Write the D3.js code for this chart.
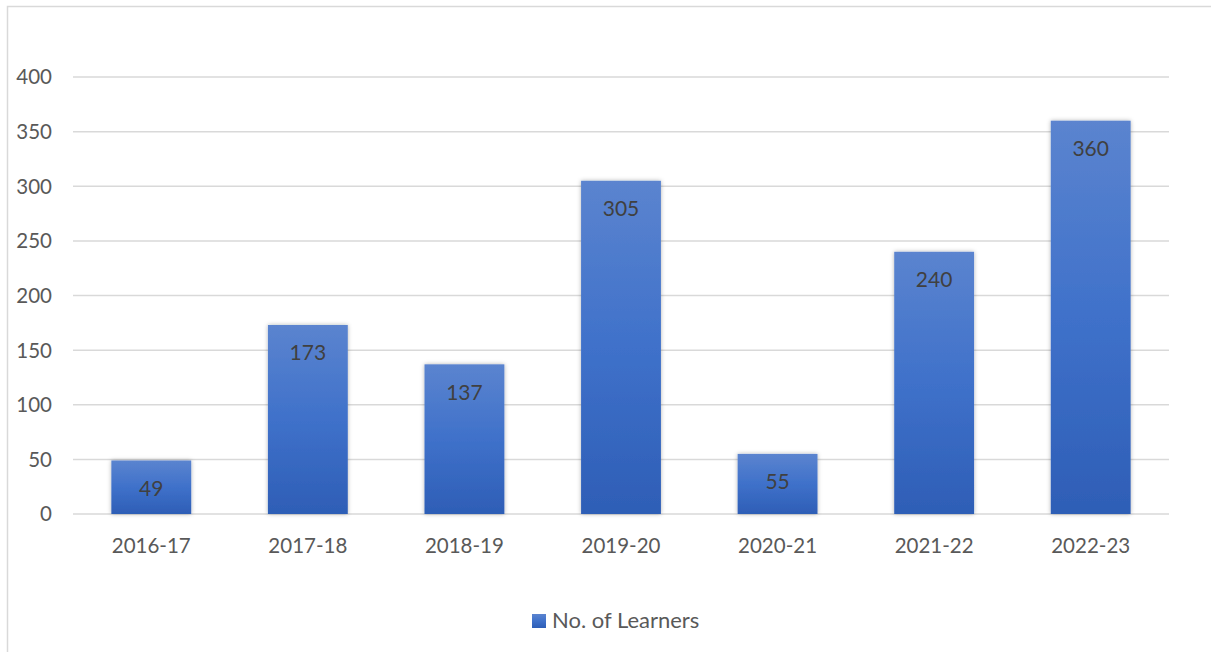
<!DOCTYPE html>
<html>
<head>
<meta charset="utf-8">
<script src="https://cdn.jsdelivr.net/npm/d3@7"></script>
<style>
  body { margin: 0; background: #fff; }
  text { font-family: Lato, "Open Sans", sans-serif; }
</style>
</head>
<body>
<div id="chart"></div>
<script>
// chart data
var years = ["2016-17", "2017-18", "2018-19", "2019-20", "2020-21", "2021-22", "2022-23"];
var learners = [49, 173, 137, 305, 55, 240, 360];
var yTicks = [0, 50, 100, 150, 200, 250, 300, 350, 400];
var seriesName = "No. of Learners";

var width = 1211,
    height = 652;

var svg = d3.select("#chart")
   .append("svg")
   .attr("width", width)
   .attr("height", height);

var defs = svg.append("defs");

// bar gradient, light at top, darker at bottom
var grad = defs.append("linearGradient")
   .attr("id", "barGrad")
   .attr("x1", 0).attr("y1", 0).attr("x2", 0).attr("y2", 1);
grad.append("stop").attr("offset", "0%").attr("stop-color", "#5b84cf");
grad.append("stop").attr("offset", "50%").attr("stop-color", "#3f71ca");
grad.append("stop").attr("offset", "100%").attr("stop-color", "#2e5eb6");

var shadow = defs.append("filter")
   .attr("id", "shadow")
   .attr("x", "-20%").attr("y", "-20%")
   .attr("width", "140%").attr("height", "140%");
shadow.append("feDropShadow")
   .attr("dx", 0).attr("dy", 0)
   .attr("stdDeviation", 2)
   .attr("flood-color", "#000")
   .attr("flood-opacity", 0.3);

// chart frame (only top and left edges are visible)
svg.append("path")
   .attr("d", "M7.5,652 L7.5,6.5 L1211,6.5")
   .attr("fill", "none")
   .attr("stroke", "#d9d9d9")
   .attr("stroke-width", 1.5);

var x = d3.scaleBand()
   .domain(years)
   .range([73, 1169])
   .paddingInner(0.49)
   .paddingOuter(0.245);

var y = d3.scaleLinear()
   .domain([0, 400])
   .range([514, 77]);

// gridlines
svg.append("g")
   .selectAll("line")
   .data(yTicks)
   .enter().append("line")
   .attr("x1", 73)
   .attr("x2", 1169)
   .attr("y1", function(d) { return y(d); })
   .attr("y2", function(d) { return y(d); })
   .attr("stroke", "#d9d9d9")
   .attr("stroke-width", 1.5);

// y tick labels
svg.append("g")
   .selectAll("text")
   .data(yTicks)
   .enter().append("text")
   .attr("x", 52)
   .attr("y", function(d) { return y(d); })
   .attr("dy", "0.36em")
   .attr("text-anchor", "end")
   .attr("font-size", 20.5)
   .attr("fill", "#595959")
   .text(function(d) { return d; });

// bars
svg.append("g")
   .selectAll("rect")
   .data(learners)
   .enter().append("rect")
   .attr("x", function(d, i) { return x(years[i]); })
   .attr("y", function(d) { return y(d); })
   .attr("width", x.bandwidth())
   .attr("height", function(d) { return y(0) - y(d); })
   .attr("fill", "url(#barGrad)")
   .attr("filter", "url(#shadow)");

// value labels inside bars
svg.append("g")
   .selectAll("text")
   .data(learners)
   .enter().append("text")
   .attr("x", function(d, i) { return x(years[i]) + x.bandwidth() / 2; })
   .attr("y", function(d) { return y(d) + 35.5; })
   .attr("text-anchor", "middle")
   .attr("font-size", 21)
   .attr("fill", "#404040")
   .text(function(d) { return d; });

// category labels
svg.append("g")
   .selectAll("text")
   .data(years)
   .enter().append("text")
   .attr("x", function(d) { return x(d) + x.bandwidth() / 2; })
   .attr("y", 553)
   .attr("text-anchor", "middle")
   .attr("font-size", 20.5)
   .attr("fill", "#595959")
   .text(function(d) { return d; });

// legend
var legend = svg.append("g");
legend.append("rect")
   .attr("x", 532)
   .attr("y", 614)
   .attr("width", 14)
   .attr("height", 14)
   .attr("fill", "url(#barGrad)");
legend.append("text")
   .attr("x", 552)
   .attr("y", 627.5)
   .attr("font-size", 22)
   .attr("fill", "#595959")
   .text(seriesName);
</script>
</body>
</html>
